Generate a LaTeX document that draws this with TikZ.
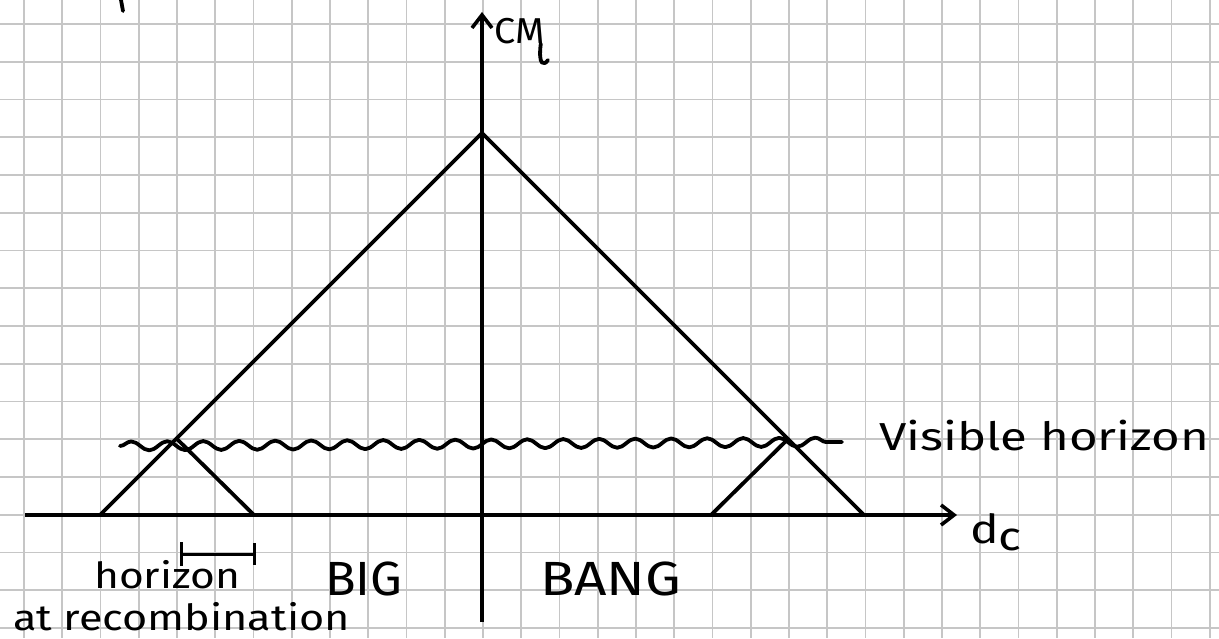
\documentclass[tikz,border=0pt]{standalone}
\usepackage{fontspec}
\setmainfont{Fira Sans}
\usetikzlibrary{arrows.meta,decorations.pathmorphing}

\tikzset{
  grid line/.style={gray!45,line width=1.6pt},
  ink/.style={black,line width=3.8pt,line cap=round,line join=round},
  axis/.style={black,line width=4.2pt},
  hand/.style={font=\fontsize{36}{40}\selectfont,inner sep=0pt,anchor=base west},
  hand big/.style={font=\fontsize{48}{52}\selectfont,inner sep=0pt,anchor=base west},
}

\begin{document}
\begin{tikzpicture}[x=1pt,y=-1pt,>={Straight Barb[length=13pt,width=20pt,line width=3.6pt]}]
\useasboundingbox (0,0) rectangle (1219,638);
% squared paper
\foreach \k in {0,...,31} \draw[grid line] ({24+38.25*\k},0) -- ({24+38.25*\k},638);
\foreach \k in {0,...,16} \draw[grid line] (0,{24+37.75*\k}) -- (1219,{24+37.75*\k});

% axes
\coordinate (left end) at (25,515);
\coordinate (right end) at (957,515);
\coordinate (bottom) at (482,622);
\coordinate (top) at (482,12);
\draw[axis,->] (left end) -- (right end);
\draw[axis,->] (bottom) -- (top);

% light cones
\coordinate (apex) at (482,133);
\coordinate (cone L) at (100,515);
\coordinate (cone R) at (864,515);
\coordinate (cross L) at (177,439);
\coordinate (cross R) at (788,439);
\coordinate (rec L) at (254,515);
\coordinate (rec R) at (711,515);
\draw[ink] (cone L) -- (apex) -- (cone R);
\draw[ink] (cross L) -- (rec L);
\draw[ink] (rec R) -- (cross R);

% visible horizon
\coordinate (wave start) at (120,446);
\coordinate (wave end) at (842,442);
\draw[ink,decorate,decoration={snake,segment length=36pt,amplitude=4.5pt}] (wave start) -- (wave end);

% horizon at recombination
\coordinate (bar L) at (180,554);
\coordinate (bar R) at (256,554);
\draw[ink,line width=3pt,{Bar[width=24pt,line width=3pt]}-{Bar[width=22pt,line width=3pt]}] (bar L) -- (bar R);

% stray pen mark
\draw[ink] (121,0) -- (123,11);

% labels
\node[hand] (cm) at (494,43) {\scalebox{1.05}[1]{CM}};
\draw[ink] (cm.south east) ++(-4,0) coordinate (hook a) .. controls (538,66) and (544,66) .. (548,60);
\node[hand] (dc) at (970,543) {\scalebox{1.2}[1]{\fontsize{40}{44}\selectfont d\raisebox{-0.35ex}{c}}};
\node[hand] (visible) at (879,450) {\scalebox{1.26}[1]{\fontsize{39}{44}\selectfont Visible horizon}};
\node[hand] (horizon) at (94,588) {\scalebox{1.18}[1]{horizon}};
\node[hand] (recomb) at (13,630) {\scalebox{1.2}[1]{at recombination}};
\node[hand big] (big) at (325,595) {\scalebox{1.05}[1]{BIG}};
\node[hand big] (bang) at (540,595) {\scalebox{1.18}[1]{BANG}};
\end{tikzpicture}
\end{document}
